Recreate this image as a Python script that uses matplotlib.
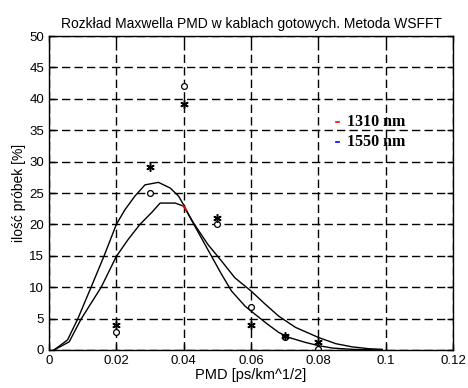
import matplotlib
matplotlib.use("Agg")
import matplotlib.pyplot as plt

# measured points
pts_x = [0.02, 0.03, 0.04, 0.05, 0.06, 0.07, 0.08]
circ_y = [2.9, 25.0, 42.0, 20.0, 6.9, 2.0, 0.2]
star_y = [4.0, 29.1, 39.2, 21.0, 4.0, 2.3, 1.2]

# fitted curve A (taller, left)
curveA_x = [0.0015, 0.0055, 0.0085, 0.0125, 0.0163, 0.020, 0.0225, 0.0255, 0.0285,
            0.0325, 0.036, 0.0385, 0.040, 0.0422, 0.0452, 0.0482, 0.0512, 0.0542,
            0.0582, 0.060, 0.0642, 0.0682, 0.0712, 0.0762, 0.080, 0.0842, 0.090, 0.098]
curveA_y = [0.0, 1.6, 4.9, 10.0, 14.9, 20.0, 22.3, 24.5, 26.3,
            26.7, 25.8, 24.5, 23.1, 20.8, 17.9, 15.0, 12.1, 9.4,
            7.0, 6.2, 4.4, 2.8, 2.0, 1.2, 0.7, 0.3, 0.1, 0.0]

# fitted curve B (lower peak, right)
curveB_x = [0.0015, 0.006, 0.0095, 0.0155, 0.020, 0.0235, 0.027, 0.0305, 0.033,
            0.0375, 0.040, 0.0432, 0.0472, 0.0512, 0.0552, 0.060, 0.0642, 0.0682,
            0.0732, 0.080, 0.0852, 0.090, 0.095, 0.099]
curveB_y = [0.0, 1.3, 4.9, 10.0, 14.9, 17.6, 20.0, 21.9, 23.4,
            23.4, 22.9, 20.0, 16.8, 14.2, 11.5, 9.4, 7.3, 5.4,
            3.6, 2.0, 1.0, 0.5, 0.2, 0.1]

red_x = [0.0398, 0.0408]
red_y = [23.0, 22.3]

legend_labels = ["1310 nm", "1550 nm"]
legend_colors = ["red", "blue"]

xticks = [0, 0.02, 0.04, 0.06, 0.08, 0.1, 0.12]
xtick_labels = ["0", "0.02", "0.04", "0.06", "0.08", "0.1", "0.12"]
yticks = [0, 5, 10, 15, 20, 25, 30, 35, 40, 45, 50]

plt.rcParams['font.family'] = ['Liberation Sans', 'DejaVu Sans']

fig = plt.figure(figsize=(4.68, 3.88), dpi=100)
ax = fig.add_axes([0.1047, 0.098, 0.8633, 0.809])

ax.plot(curveA_x, curveA_y, color='black', lw=1.0)
ax.plot(curveB_x, curveB_y, color='black', lw=1.0)
ax.plot(red_x, red_y, color='red', lw=1.2)
ax.plot(pts_x, circ_y, linestyle='none', marker='o', mfc='white', mec='black',
        ms=4.2, mew=0.9)
ax.plot(pts_x, star_y, linestyle='none', marker=(6, 2, 0), color='black', ms=6,
        mew=1.1)

ax.set_xlim(0, 0.12)
ax.set_ylim(0, 50)
ax.set_xticks(xticks)
ax.set_xticklabels(xtick_labels)
ax.set_yticks(yticks)
ax.tick_params(direction='in', length=4, labelsize=9.5, width=1, top=True, right=True)
ax.grid(True, color='black', linestyle=(0, (6, 3)), linewidth=1)
for s in ax.spines.values():
    s.set_linewidth(1)

ax.set_title("Rozkład Maxwella PMD w kablach gotowych. Metoda WSFFT", fontsize=10, pad=6)
ax.set_xlabel("PMD [ps/km^1/2]", fontsize=10.5, labelpad=1)
ax.set_ylabel("ilość próbek [%]", fontsize=10, labelpad=2)

# legend drawn manually with markers and bold serif text
for i, (lab, col) in enumerate(zip(legend_labels, legend_colors)):
    yy = 36.3 - 3.1 * i
    ax.plot([0.0852, 0.0862], [yy, yy], color=col, lw=1.2)
    ax.text(0.0885, yy, lab, fontsize=11.5, fontweight='bold', va='center',
            family=['Liberation Serif', 'DejaVu Serif'])

fig.savefig("out.png", dpi=100)
